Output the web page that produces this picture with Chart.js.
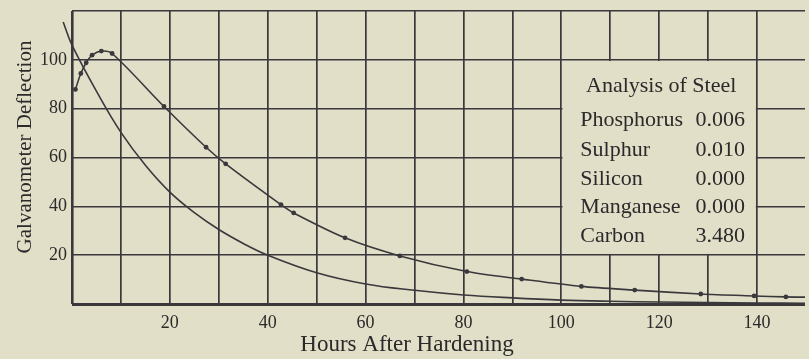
<!DOCTYPE html>
<html>
<head>
<meta charset="utf-8">
<script src="https://cdn.jsdelivr.net/npm/chart.js@4/dist/chart.umd.min.js"></script>
<style>
  html, body { margin: 0; padding: 0; background: #e1dfc7; }
  #wrap { width: 809px; height: 359px; position: relative; }
</style>
</head>
<body>
<div id="wrap"><canvas id="c" width="809" height="359"></canvas></div>
<script>
// Galvanometer readings taken after hardening (dotted curve)
const measuredHours = [0.7, 1.8, 2.9, 4.1, 6.0, 8.2, 18.8, 27.4, 31.4, 42.7, 45.3, 55.8, 67.0, 80.7, 91.9, 104.1, 115.0, 128.5, 139.4, 145.9, 149.8];
const measuredDeflection = [87.9, 94.4, 98.8, 101.9, 103.6, 102.6, 80.9, 64.2, 57.4, 40.7, 37.3, 27.1, 19.7, 13.3, 10.2, 7.2, 5.7, 4.1, 3.3, 2.9, 2.8];

// Smooth reference decay curve (no observation dots)
const decayHours = [-1.8, 0, 5.7, 10, 15, 20, 25, 30, 35, 40, 50, 60, 70, 80, 90, 100, 110, 120, 130, 140, 149.8];
const decayDeflection = [115.5, 106, 84.6, 70.3, 56.8, 45.8, 37.4, 30.5, 24.8, 20, 12.8, 8.2, 5.6, 3.7, 2.5, 1.6, 1.1, 0.8, 0.6, 0.4, 0.3];

// Steel analysis table
const elements = ['Phosphorus', 'Sulphur', 'Silicon', 'Manganese', 'Carbon'];
const contents = ['0.006', '0.010', '0.000', '0.000', '3.480'];

const xTitle = 'Hours After Hardening';
const yTitle = 'Galvanometer Deflection';
const tableTitle = 'Analysis of Steel';

const INK = '#3a383c';
const TEXT = '#2c292b';
const PAPER = '#e1dfc7';
const SERIF = '"Liberation Serif", "Times New Roman", serif';

const toXY = (xs, ys) => xs.map((x, i) => ({ x: x, y: ys[i] }));

const paperPlugin = {
  id: 'paper',
  beforeDraw(chart) {
    const ctx = chart.ctx;
    ctx.save();
    ctx.fillStyle = PAPER;
    ctx.fillRect(0, 0, chart.width, chart.height);
    ctx.restore();
  }
};

// Table panel covering the grid cells between 100–140 h and 20–100 deflection
const tablePlugin = {
  id: 'steelTable',
  beforeDatasetsDraw(chart) {
    const { ctx, scales: { x, y } } = chart;
    const l = x.getPixelForValue(100), r = x.getPixelForValue(140);
    const t = y.getPixelForValue(100), b = y.getPixelForValue(20);
    ctx.save();
    ctx.fillStyle = PAPER;
    ctx.fillRect(l + 1.2, t + 1.2, r - l - 2.4, b - t - 2.4);
    ctx.fillStyle = TEXT;
    ctx.font = '22px ' + SERIF;
    ctx.textBaseline = 'alphabetic';
    ctx.textAlign = 'center';
    ctx.fillText(tableTitle, (l + r) / 2 + 2, t + 32);
    const rows = [126, 155.5, 184.5, 213, 241.5];
    elements.forEach((name, i) => {
      ctx.textAlign = 'left';
      ctx.fillText(name, l + 19, rows[i]);
      ctx.textAlign = 'right';
      ctx.fillText(contents[i], r - 12, rows[i]);
    });
    ctx.restore();
  },
  afterDraw(chart) {
    const { ctx } = chart;
    ctx.save();
    ctx.fillStyle = TEXT;
    ctx.font = '23px ' + SERIF;
    ctx.textAlign = 'center';
    ctx.textBaseline = 'alphabetic';
    ctx.fillText(xTitle, 407, 351);
    ctx.translate(31, 147);
    ctx.rotate(-Math.PI / 2);
    ctx.font = '21px ' + SERIF;
    ctx.fillText(yTitle, 0, 0);
    ctx.restore();
  }
};

new Chart(document.getElementById('c'), {
  type: 'scatter',
  data: {
    datasets: [
      {
        data: toXY(measuredHours, measuredDeflection),
        showLine: true,
        borderColor: INK,
        backgroundColor: INK,
        borderWidth: 1.6,
        tension: 0.3,
        pointRadius: (c) => (c.dataIndex === measuredHours.length - 1 ? 0 : 2.4),
        pointBorderWidth: 0,
        clip: false
      },
      {
        data: toXY(decayHours, decayDeflection),
        showLine: true,
        borderColor: INK,
        borderWidth: 1.6,
        tension: 0.4,
        pointRadius: 0,
        clip: false
      }
    ]
  },
  options: {
    responsive: false,
    animation: false,
    layout: { padding: { top: 11, right: 0, left: 0, bottom: 0 } },
    plugins: { legend: { display: false }, tooltip: { enabled: false } },
    scales: {
      x: {
        type: 'linear',
        min: 0,
        max: 149.8,
        border: { display: false },
        grid: {
          color: INK,
          lineWidth: (c) => (c.tick && c.tick.value === 0 ? 2.6 : 1.7),
          drawTicks: false
        },
        ticks: {
          stepSize: 10,
          includeBounds: false,
          autoSkip: false,
          maxRotation: 0,
          padding: 8,
          color: TEXT,
          font: { family: SERIF, size: 18 },
          callback: (v) => (v % 20 === 0 && v !== 0 ? String(v) : '')
        },
        afterFit: (s) => { s.height = 55; s.paddingLeft = 0; s.paddingRight = 0; }
      },
      y: {
        min: 0,
        max: 120,
        border: { display: false },
        grid: {
          color: INK,
          lineWidth: (c) => (c.tick && c.tick.value === 0 ? 3 : 1.6),
          drawTicks: false
        },
        ticks: {
          stepSize: 20,
          padding: 5,
          color: TEXT,
          font: { family: SERIF, size: 18 },
          callback: (v) => (v === 0 || v === 120 ? '' : String(v))
        },
        afterFit: (s) => { s.width = 72; s.paddingTop = 0; s.paddingBottom = 0; }
      }
    }
  },
  plugins: [paperPlugin, tablePlugin]
});
</script>
</body>
</html>
